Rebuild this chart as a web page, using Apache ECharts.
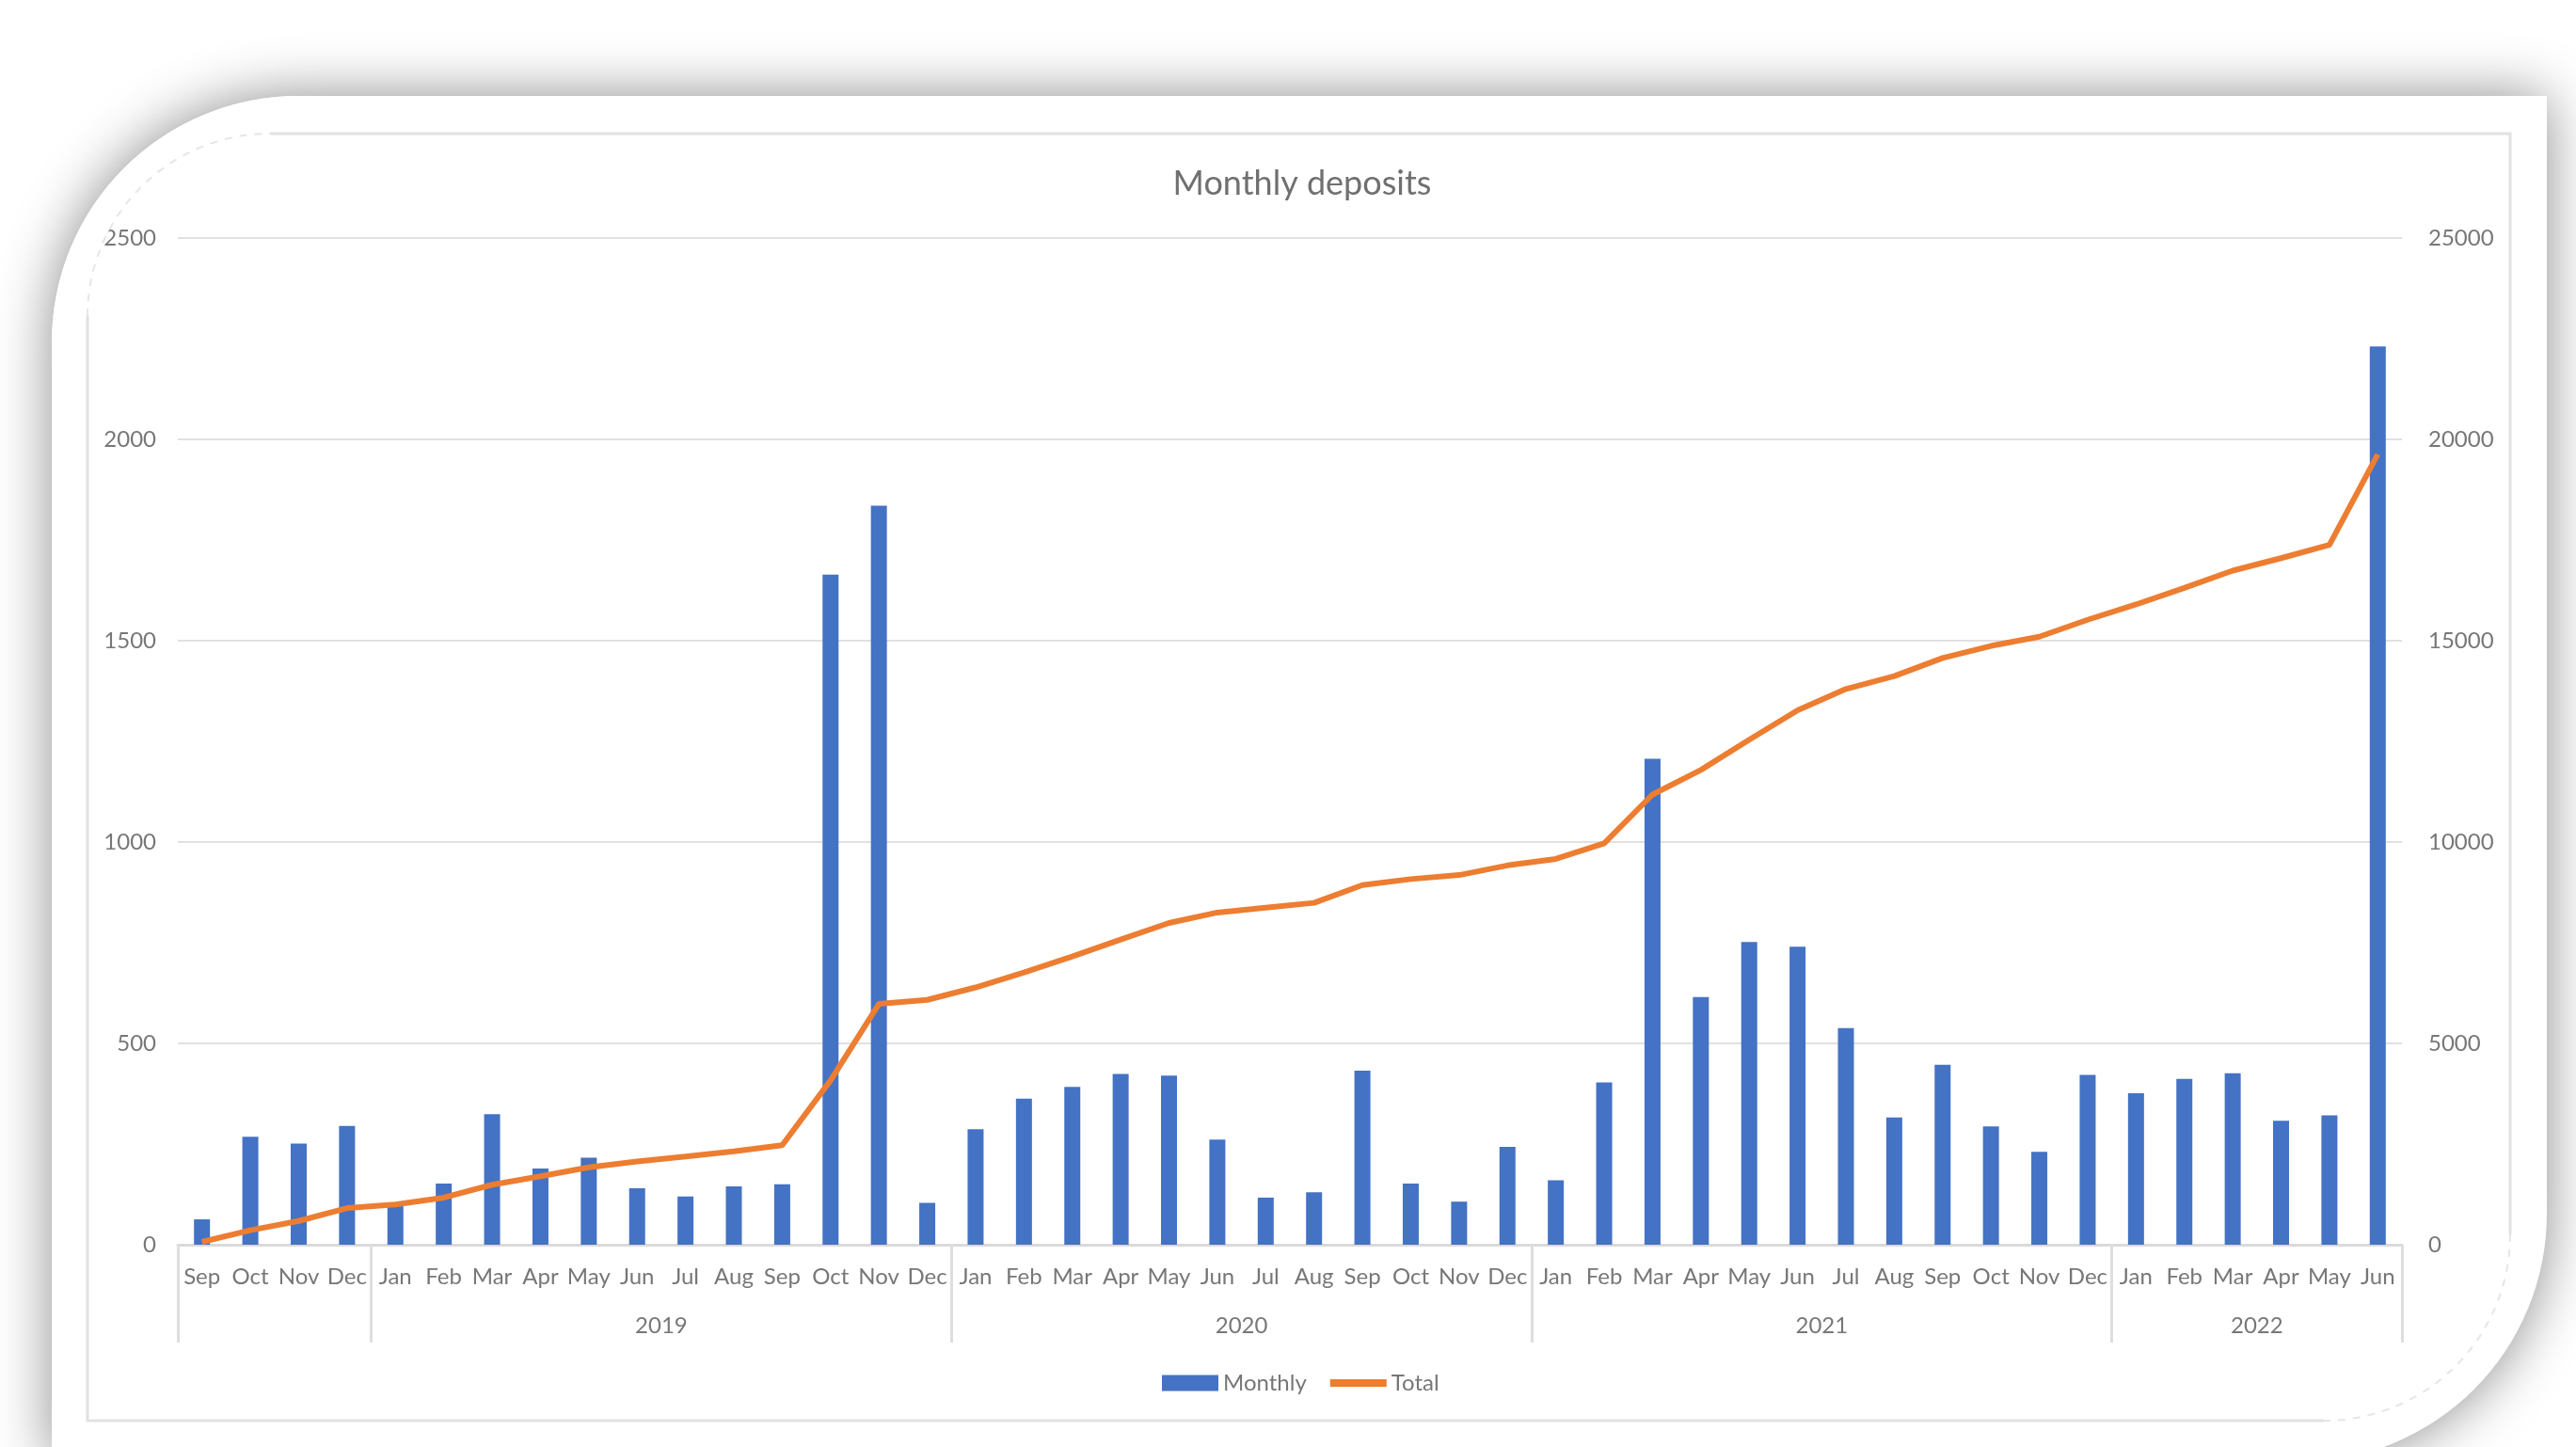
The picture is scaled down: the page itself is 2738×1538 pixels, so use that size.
<!DOCTYPE html>
<html>
<head>
<meta charset="utf-8">
<script src="https://cdn.jsdelivr.net/npm/echarts@6/dist/echarts.min.js"></script>
<style>
html,body{margin:0;padding:0;background:#ffffff;}
#chart{width:2738px;height:1538px;}
</style>
</head>
<body>
<div id="chart"></div>
<script>
// ---- data ----
const months = [
  'Sep','Oct','Nov','Dec',
  'Jan','Feb','Mar','Apr','May','Jun','Jul','Aug','Sep','Oct','Nov','Dec',
  'Jan','Feb','Mar','Apr','May','Jun','Jul','Aug','Sep','Oct','Nov','Dec',
  'Jan','Feb','Mar','Apr','May','Jun','Jul','Aug','Sep','Oct','Nov','Dec',
  'Jan','Feb','Mar','Apr','May','Jun'
];
const yearLabels = ['', '2019', '2020', '2021', '2022'];
const yearSpans = [4, 12, 12, 12, 6];
const monthly = [
  63, 268, 251, 295,
  100, 152, 324, 189, 216, 140, 120, 145, 150, 1664, 1835, 104,
  287, 363, 392, 424, 420, 261, 117, 130, 432, 152, 107, 243,
  160, 403, 1207, 615, 752, 740, 538, 316, 447, 294, 231, 422,
  376, 412, 426, 308, 321, 2231
];
const total = [
  70, 360, 590, 910,
  1000, 1170, 1490, 1700, 1920, 2070, 2190, 2320, 2470, 4080, 5980, 6080,
  6390, 6760, 7160, 7580, 7990, 8250, 8370, 8490, 8930, 9080, 9180, 9420,
  9580, 9970, 11180, 11790, 12540, 13270, 13800, 14120, 14570, 14870, 15100, 15520,
  15900, 16310, 16740, 17050, 17380, 19630
];
const leftAxisMax = 2500, leftAxisStep = 500;
const rightAxisMax = 25000, rightAxisStep = 5000;

// ---- derived group boundaries / centres ----
const boundaries = [];
const centres = [];
const centreLabel = {};
let acc = 0;
yearSpans.forEach((s, i) => {
  boundaries.push(acc);
  const c = acc + s / 2;
  centres.push(c);
  centreLabel[c] = yearLabels[i];
  acc += s;
});
const boundarySet = new Set(boundaries);

const FONT = 'Lato';
const TXT = '#777777';

// ---- decoration geometry ----
function arcPts(cx, cy, r, a0, a1, n) {
  const pts = [];
  for (let k = 0; k <= n; k++) {
    const a = a0 + (a1 - a0) * k / n;
    pts.push([cx + r * Math.cos(a), cy + r * Math.sin(a)]);
  }
  return pts;
}
const outerTL = arcPts(317, 364, 262, Math.PI, 1.5 * Math.PI, 40);
const innerTL = arcPts(287, 336, 194, 1.5 * Math.PI, Math.PI, 40);
const overlayPts = outerTL.concat([[317, 142]], innerTL, [[93, 364]]);

const plain = function (v) { return String(v); };

const chart = echarts.init(document.getElementById('chart'), null, {renderer: 'canvas'});
chart.setOption({
  backgroundColor: '#ffffff',
  animation: false,
  title: {
    text: 'Monthly deposits',
    left: 1379,
    textAlign: 'center',
    top: 172,
    textStyle: {fontFamily: FONT, fontSize: 36, fontWeight: 'normal', color: '#707070'}
  },
  legend: {
    left: 1230,
    top: 1453,
    itemWidth: 60,
    itemHeight: 17,
    itemGap: 25,
    textStyle: {fontFamily: FONT, fontSize: 24, color: TXT},
    data: [
      {name: 'Monthly', icon: 'rect'},
      {name: 'Total', icon: 'path://M0,0 L60,0 L60,8 L0,8 Z', itemStyle: {color: '#ED7D31'}}
    ]
  },
  grid: {left: 189, right: 185, top: 253, bottom: 215, containLabel: false},
  xAxis: [
    {
      type: 'category',
      data: months,
      position: 'bottom',
      boundaryGap: true,
      axisLine: {show: true, lineStyle: {color: '#dadada', width: 3}},
      axisTick: {
        show: true,
        interval: function (i) { return boundarySet.has(i); },
        length: 104,
        lineStyle: {color: '#dedede', width: 3}
      },
      axisLabel: {interval: 0, margin: 22, fontFamily: FONT, fontSize: 24, color: TXT},
      splitLine: {show: false}
    },
    {
      type: 'value',
      min: 0,
      max: months.length,
      position: 'bottom',
      axisLine: {show: false},
      axisTick: {show: false},
      splitLine: {show: false},
      axisLabel: {
        customValues: centres,
        formatter: function (v) { return centreLabel[v] || ''; },
        margin: 74,
        fontFamily: FONT, fontSize: 24, color: TXT
      }
    }
  ],
  yAxis: [
    {
      type: 'value', min: 0, max: leftAxisMax, interval: leftAxisStep, position: 'left',
      axisLine: {show: false}, axisTick: {show: false},
      splitLine: {show: true, lineStyle: {color: '#e1e1e1', width: 2}},
      axisLabel: {margin: 23, fontFamily: FONT, fontSize: 24, color: TXT, formatter: plain}
    },
    {
      type: 'value', min: 0, max: rightAxisMax, interval: rightAxisStep, position: 'right',
      axisLine: {show: false}, axisTick: {show: false},
      splitLine: {show: false},
      axisLabel: {margin: 28, fontFamily: FONT, fontSize: 24, color: TXT, formatter: plain}
    }
  ],
  series: [
    {
      name: 'Monthly', type: 'bar', data: monthly, xAxisIndex: 0, yAxisIndex: 0,
      barWidth: 17,
      itemStyle: {color: '#4472C4'}
    },
    {
      name: 'Total', type: 'line', data: total, xAxisIndex: 0, yAxisIndex: 1,
      symbol: 'none', showSymbol: false,
      lineStyle: {color: '#ED7D31', width: 6},
      itemStyle: {color: '#ED7D31'}
    }
  ],
  graphic: [
    {
      type: 'rect', z: -100, silent: true,
      shape: {x: 55, y: 102, width: 2652, height: 1452, r: [262, 0, 264, 0]},
      style: {fill: '#ffffff', shadowBlur: 60, shadowColor: 'rgba(0,0,0,0.45)'}
    },
    {
      type: 'polygon', z: 100, silent: true,
      shape: {points: overlayPts},
      style: {fill: '#ffffff'}
    },
    {
      type: 'polyline', z: 101, silent: true,
      shape: {points: [[287, 142], [2668, 142], [2668, 1312]]},
      style: {stroke: '#e2e2e2', lineWidth: 3, fill: null}
    },
    {
      type: 'polyline', z: 101, silent: true,
      shape: {points: [[2470, 1510], [93, 1510], [93, 336]]},
      style: {stroke: '#e2e2e2', lineWidth: 3, fill: null}
    },
    {
      type: 'arc', z: 101, silent: true,
      shape: {cx: 287, cy: 336, r: 194, startAngle: Math.PI, endAngle: 1.5 * Math.PI, clockwise: true},
      style: {stroke: '#e6e6e6', lineWidth: 2, lineDash: [8, 8], fill: null}
    },
    {
      type: 'arc', z: 101, silent: true,
      shape: {cx: 2470, cy: 1312, r: 198, startAngle: 0, endAngle: 0.5 * Math.PI, clockwise: true},
      style: {stroke: '#e6e6e6', lineWidth: 2, lineDash: [8, 8], fill: null}
    }
  ]
});
</script>
</body>
</html>
